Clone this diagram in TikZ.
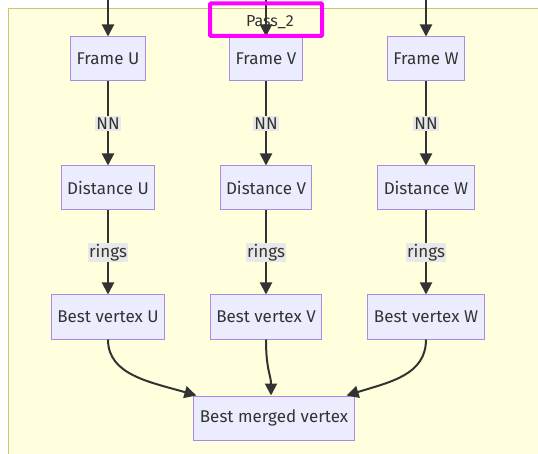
\documentclass[tikz,border=0pt]{standalone}
\usepackage{fontspec}
\setmainfont{Fira Sans}
\usetikzlibrary{arrows.meta}

\definecolor{boxfill}{HTML}{ECECFF}
\definecolor{boxline}{HTML}{A98BE3}
\definecolor{clusterfill}{HTML}{FFFFDE}
\definecolor{clusterline}{HTML}{C8C870}
\definecolor{edgelabel}{HTML}{E8E8E8}
\definecolor{ink}{HTML}{333333}
\definecolor{marker}{HTML}{FF00FF}

\begin{document}
\begin{tikzpicture}[x=1pt,y=-1pt,
  font=\fontsize{17}{20}\selectfont,
  stage/.style={draw=boxline,fill=boxfill,text=ink,line width=1pt,
    minimum height=44pt,inner xsep=6pt},
  flow/.style={draw=ink,line width=2pt,-{Triangle[length=12pt,width=12pt]}},
  edgetag/.style={fill=edgelabel,text=ink,inner sep=1.5pt}]
  \useasboundingbox (0,0) rectangle (538,454);
  \fill[white] (0,0) rectangle (538,454);
  % subgraph box
  \draw[clusterline,fill=clusterfill,line width=1.2pt] (8.5,8.5) rectangle (560,470);
  \node[text=ink,font=\fontsize{16}{18}\selectfont] (pass) at (270,22) {Pass\_2};

  % incoming edges
  \coordinate (inu) at (108,0);
  \coordinate (inv) at (266,0);
  \coordinate (inw) at (426,0);

  \node[stage] (fu) at (108,59) {Frame U};
  \node[stage] (fv) at (266,59) {Frame V};
  \node[stage] (fw) at (426,59) {Frame W};

  \node[stage] (du) at (108,188) {Distance U};
  \node[stage] (dv) at (266,188) {Distance V};
  \node[stage] (dw) at (426,188) {Distance W};

  \node[stage] (bu) at (108,317) {Best vertex U};
  \node[stage] (bv) at (266,317) {Best vertex V};
  \node[stage] (bw) at (426,317) {Best vertex W};

  \node[stage] (bm) at (274,418) {Best merged vertex};

  \draw[flow] (inu) -- (fu);
  \draw[flow] (inv) -- (fv);
  \draw[flow] (inw) -- (fw);

  \draw[flow] (fu) -- node[edgetag] {NN} (du);
  \draw[flow] (fv) -- node[edgetag] {NN} (dv);
  \draw[flow] (fw) -- node[edgetag] {NN} (dw);

  \draw[flow] (du) -- node[edgetag] {rings} (bu);
  \draw[flow] (dv) -- node[edgetag] {rings} (bv);
  \draw[flow] (dw) -- node[edgetag] {rings} (bw);

  % merge
  \draw[flow] (bu.south) .. controls (108,375) and (150,382) .. ([xshift=3pt]bm.north west);
  \draw[flow] (bv.south) .. controls (266,370) and (271,375) .. ([xshift=-3pt]bm.north);
  \draw[flow] (bw.south) .. controls (426,375) and (390,382) .. ([xshift=-8pt]bm.north east);

  % highlight
  \draw[marker,line width=4pt,rounded corners=1pt] (210,3.5) rectangle (322,36);
\end{tikzpicture}
\end{document}
